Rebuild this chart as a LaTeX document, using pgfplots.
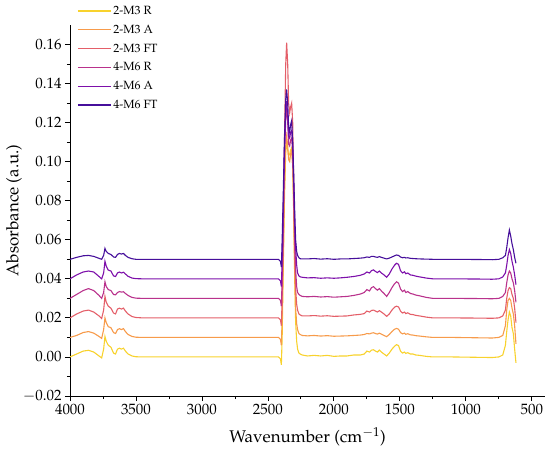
\documentclass[border=0pt]{standalone}
\usepackage[T1]{fontenc}
\usepackage{mathpazo}
\usepackage{pgfplots}
\usepackage{pgfplotstable}
\pgfplotsset{compat=1.18}
\definecolor{cR2}{RGB}{248,210,45}
\definecolor{cA2}{RGB}{247,155,75}
\definecolor{cF2}{RGB}{228,95,105}
\definecolor{cR4}{RGB}{185,50,140}
\definecolor{cA4}{RGB}{125,15,170}
\definecolor{cF4}{RGB}{70,15,155}
\pgfplotstableread{
x r2 a2 f2 r4 a4 f4
4000 0.0000 0.0100 0.0200 0.0300 0.0400 0.0500
3950 0.0015 0.0110 0.0220 0.0320 0.0420 0.0510
3900 0.0030 0.0125 0.0235 0.0340 0.0435 0.0518
3860 0.0034 0.0130 0.0240 0.0350 0.0440 0.0520
3820 0.0025 0.0122 0.0230 0.0340 0.0435 0.0515
3780 0.0005 0.0105 0.0210 0.0315 0.0412 0.0505
3760 -0.0005 0.0095 0.0197 0.0300 0.0400 0.0500
3745 0.0040 0.0140 0.0240 0.0330 0.0430 0.0520
3735 0.0105 0.0200 0.0310 0.0385 0.0490 0.0556
3725 0.0080 0.0175 0.0280 0.0360 0.0465 0.0540
3710 0.0060 0.0155 0.0260 0.0345 0.0445 0.0530
3690 0.0050 0.0150 0.0250 0.0340 0.0440 0.0525
3670 0.0020 0.0125 0.0225 0.0320 0.0415 0.0512
3655 0.0015 0.0120 0.0220 0.0318 0.0412 0.0510
3640 0.0040 0.0140 0.0245 0.0330 0.0430 0.0525
3625 0.0045 0.0145 0.0250 0.0335 0.0435 0.0530
3610 0.0040 0.0140 0.0245 0.0332 0.0430 0.0527
3595 0.0045 0.0145 0.0250 0.0334 0.0434 0.0530
3580 0.0030 0.0130 0.0235 0.0325 0.0425 0.0520
3560 0.0015 0.0115 0.0220 0.0315 0.0413 0.0510
3530 0.0005 0.0105 0.0207 0.0305 0.0404 0.0503
3500 0.0001 0.0101 0.0202 0.0301 0.0401 0.0500
3450 0.0000 0.0100 0.0200 0.0300 0.0400 0.0500
3300 0.0000 0.0100 0.0200 0.0300 0.0400 0.0500
3000 0.0000 0.0100 0.0200 0.0300 0.0400 0.0500
2700 0.0000 0.0100 0.0200 0.0300 0.0400 0.0500
2500 0.0000 0.0100 0.0200 0.0300 0.0400 0.0500
2420 0.0000 0.0100 0.0200 0.0300 0.0400 0.0500
2405 -0.0010 0.0090 0.0190 0.0290 0.0390 0.0490
2398 -0.0040 0.0060 0.0160 0.0260 0.0360 0.0460
2392 0.0100 0.0200 0.0300 0.0400 0.0500 0.0600
2385 0.0400 0.0450 0.0600 0.0600 0.0700 0.0800
2375 0.0800 0.0850 0.1100 0.1000 0.1050 0.1100
2365 0.1050 0.1080 0.1500 0.1220 0.1260 0.1320
2358 0.1100 0.1130 0.1610 0.1270 0.1310 0.1370
2350 0.1060 0.1080 0.1500 0.1200 0.1240 0.1300
2343 0.1030 0.1010 0.1300 0.1090 0.1130 0.1180
2335 0.1040 0.1000 0.1250 0.1080 0.1120 0.1150
2328 0.1060 0.1040 0.1280 0.1110 0.1150 0.1190
2320 0.1070 0.1060 0.1300 0.1120 0.1160 0.1210
2312 0.0980 0.0980 0.1200 0.1040 0.1080 0.1100
2305 0.0750 0.0780 0.0900 0.0850 0.0900 0.0950
2297 0.0400 0.0450 0.0550 0.0600 0.0680 0.0750
2290 0.0180 0.0250 0.0350 0.0450 0.0560 0.0600
2282 0.0080 0.0170 0.0270 0.0360 0.0470 0.0540
2275 0.0040 0.0140 0.0240 0.0330 0.0430 0.0520
2265 0.0020 0.0120 0.0220 0.0320 0.0415 0.0508
2255 0.0015 0.0115 0.0215 0.0315 0.0410 0.0503
2240 0.0010 0.0110 0.0210 0.0310 0.0408 0.0502
2200 0.0005 0.0108 0.0210 0.0308 0.0405 0.0502
2150 0.0008 0.0110 0.0212 0.0310 0.0406 0.0504
2100 0.0005 0.0107 0.0209 0.0307 0.0403 0.0501
2050 0.0008 0.0109 0.0211 0.0309 0.0405 0.0503
2000 0.0003 0.0106 0.0208 0.0306 0.0403 0.0500
1950 0.0005 0.0107 0.0209 0.0308 0.0405 0.0502
1900 0.0005 0.0108 0.0210 0.0310 0.0408 0.0502
1850 0.0010 0.0110 0.0215 0.0315 0.0412 0.0504
1800 0.0010 0.0112 0.0218 0.0322 0.0418 0.0506
1770 0.0015 0.0115 0.0222 0.0330 0.0425 0.0508
1750 0.0030 0.0120 0.0235 0.0345 0.0435 0.0512
1730 0.0025 0.0118 0.0230 0.0338 0.0430 0.0510
1715 0.0035 0.0122 0.0238 0.0355 0.0442 0.0515
1700 0.0037 0.0124 0.0240 0.0360 0.0446 0.0515
1685 0.0030 0.0120 0.0235 0.0350 0.0438 0.0512
1670 0.0025 0.0117 0.0230 0.0342 0.0432 0.0510
1655 0.0035 0.0122 0.0237 0.0350 0.0440 0.0514
1640 0.0025 0.0117 0.0230 0.0338 0.0430 0.0510
1620 0.0015 0.0110 0.0220 0.0325 0.0420 0.0506
1600 0.0005 0.0104 0.0208 0.0310 0.0408 0.0502
1580 0.0020 0.0115 0.0220 0.0330 0.0425 0.0506
1560 0.0040 0.0130 0.0240 0.0355 0.0450 0.0512
1540 0.0055 0.0142 0.0255 0.0375 0.0470 0.0518
1525 0.0063 0.0146 0.0260 0.0385 0.0480 0.0522
1510 0.0058 0.0142 0.0256 0.0378 0.0474 0.0520
1495 0.0030 0.0125 0.0235 0.0348 0.0442 0.0512
1480 0.0020 0.0118 0.0225 0.0335 0.0430 0.0508
1465 0.0025 0.0122 0.0230 0.0342 0.0436 0.0510
1455 0.0018 0.0116 0.0222 0.0330 0.0426 0.0507
1440 0.0022 0.0119 0.0226 0.0335 0.0430 0.0508
1420 0.0015 0.0113 0.0218 0.0325 0.0420 0.0505
1400 0.0015 0.0112 0.0217 0.0322 0.0418 0.0504
1380 0.0010 0.0109 0.0213 0.0317 0.0414 0.0503
1350 0.0008 0.0107 0.0210 0.0313 0.0410 0.0502
1300 0.0003 0.0103 0.0204 0.0305 0.0404 0.0501
1250 0.0000 0.0100 0.0200 0.0300 0.0400 0.0500
1100 0.0000 0.0100 0.0200 0.0300 0.0400 0.0500
900 -0.0002 0.0098 0.0199 0.0299 0.0399 0.0499
800 -0.0003 0.0097 0.0198 0.0298 0.0398 0.0498
750 0.0000 0.0100 0.0200 0.0300 0.0400 0.0500
720 0.0010 0.0110 0.0210 0.0310 0.0410 0.0508
700 0.0060 0.0160 0.0240 0.0330 0.0430 0.0520
690 0.0130 0.0240 0.0300 0.0380 0.0470 0.0560
680 0.0190 0.0290 0.0340 0.0420 0.0520 0.0610
670 0.0230 0.0300 0.0355 0.0440 0.0550 0.0650
660 0.0210 0.0290 0.0350 0.0430 0.0530 0.0620
650 0.0150 0.0250 0.0320 0.0400 0.0490 0.0580
640 0.0120 0.0220 0.0300 0.0380 0.0460 0.0550
630 0.0040 0.0160 0.0250 0.0340 0.0420 0.0510
620 -0.0030 0.0067 0.0176 0.0280 0.0370 0.0480
}\spectra
\begin{document}
\begin{tikzpicture}
\path[use as bounding box] (-70bp,-65bp) rectangle (480bp,396bp);
\begin{axis}[
  at={(0,0)}, anchor=south west,
  scale only axis, width=475bp, height=371bp,
  x dir=reverse, xmin=400, xmax=4000, ymin=-0.02, ymax=0.17,
  axis lines=left, axis line style={-, line width=0.8pt},
  xtick={4000,3500,...,500}, ytick={-0.02,0,...,0.16},
  minor x tick num=1, minor y tick num=1,
  tick align=outside, major tick length=5bp, minor tick length=3bp,
  every tick/.style={black, line width=0.8pt},
  yticklabel style={/pgf/number format/.cd, fixed, fixed zerofill, precision=2},
  xticklabel style={/pgf/number format/.cd, set thousands separator={}},
  scaled y ticks=false,
  tick label style={font=\fontsize{15}{18}\selectfont},
  xlabel={Wavenumber (cm$^{-1}$)}, ylabel={Absorbance (a.u.)},
  label style={font=\fontsize{17}{20}\selectfont},
  xlabel style={at={(rel axis cs:0.5,0)}, anchor=center, yshift=-41bp},
  ylabel style={at={(rel axis cs:0,0.5)}, anchor=center, yshift=56bp},
  legend style={at={(rel axis cs:0.0147,1.0566)}, anchor=north west, draw=none, fill=none,
    font=\fontsize{12}{14}\selectfont, row sep=5bp, inner sep=0pt},
  legend cell align=left,
  legend image code/.code={\draw[#1, line width=1.2pt] (0bp,0bp) -- (33bp,0bp);},
  every axis plot/.append style={line width=1.1pt},
]
\addplot[cR2] table[x=x,y=r2] {\spectra};
\addplot[cA2] table[x=x,y=a2] {\spectra};
\addplot[cF2] table[x=x,y=f2] {\spectra};
\addplot[cR4] table[x=x,y=r4] {\spectra};
\addplot[cA4] table[x=x,y=a4] {\spectra};
\addplot[cF4] table[x=x,y=f4] {\spectra};
\legend{2-M3 R, 2-M3 A, 2-M3 FT, 4-M6 R, 4-M6 A, 4-M6 FT}
\end{axis}
\end{tikzpicture}
\end{document}
